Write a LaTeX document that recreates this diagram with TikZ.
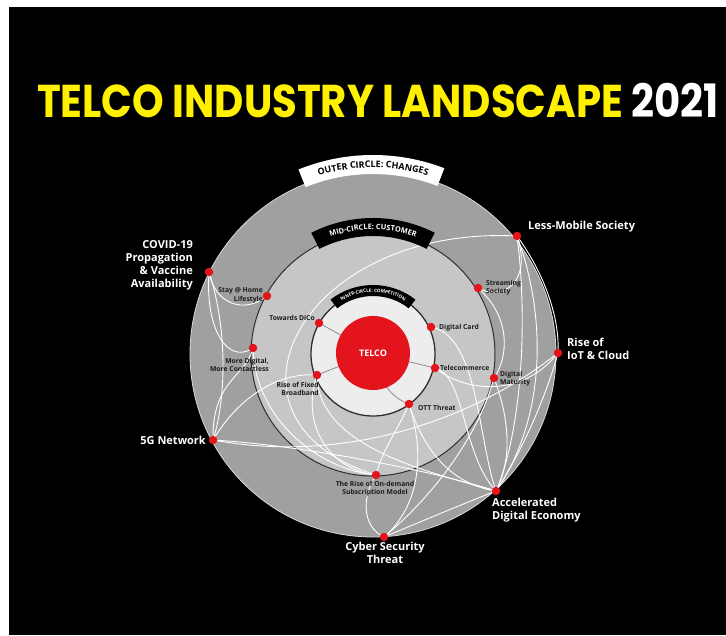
\documentclass[tikz,border=0pt]{standalone}
\usepackage{fontspec}
\usepackage{graphicx}
\setmainfont{Open Sans}
\newfontfamily\titlefont{Poppins}
\usetikzlibrary{calc,decorations.text}

\definecolor{ringouter}{HTML}{A0A0A0}
\definecolor{ringmid}{HTML}{C6C6C6}
\definecolor{ringinner}{HTML}{EDEDED}
\definecolor{edgedark}{HTML}{2E2E2E}
\definecolor{outeredge}{HTML}{D8D8D8}
\definecolor{telcored}{HTML}{E3141C}
\definecolor{titleyellow}{HTML}{FFF000}
\definecolor{labeldark}{HTML}{1C1C1C}
\definecolor{spokegray}{HTML}{8C8C8C}

\pgfdeclarelayer{canvas}
\pgfdeclarelayer{rings}
\pgfdeclarelayer{links}
\pgfsetlayers{canvas,rings,links,main}

\begin{document}
\begin{tikzpicture}[x=1pt,y=1pt,
  dot/.style={circle,fill=telcored,inner sep=0pt,minimum size=8.5pt},
  outerlabel/.style={text=white,font=\bfseries\fontsize{11}{13}\selectfont,inner sep=0pt},
  innerlabel/.style={text=labeldark,font=\bfseries\fontsize{6.8}{8.3}\selectfont,inner sep=0pt},
  link/.style={draw=white,line width=0.9pt},
  spoke/.style={draw=spokegray,line width=0.8pt}]

\useasboundingbox (0,0) rectangle (726,-635);
\begin{pgfonlayer}{canvas}
  \fill[white] (0,0) rectangle (726,-635);
  \fill[black] (9,-7) rectangle (726,-635);
\end{pgfonlayer}

% title
\node[font=\titlefont\bfseries\fontsize{46}{46}\selectfont,inner sep=0pt] (title) at (378,-100.5)
  {\scalebox{0.875}[1]{\textcolor{titleyellow}{TELCO INDUSTRY LANDSCAPE} \textcolor{white}{2021}}};

% concentric rings
\coordinate (C) at (373,-354);
\begin{pgfonlayer}{rings}
  \fill[ringouter] (C) circle[radius=183];
  \draw[outeredge,line width=0.8pt] (C) circle[radius=183];
  \filldraw[fill=ringmid,draw=edgedark,line width=1pt] (C) circle[radius=122];
  \filldraw[fill=ringinner,draw=edgedark,line width=1.3pt] (C) circle[radius=62];
\end{pgfonlayer}

% ring banners
\fill[white] ($(C)+(112:180)$) arc[start angle=112,end angle=69,radius=180]
  -- ($(C)+(69:199)$) arc[start angle=69,end angle=112,radius=199] -- cycle;
\path[decorate,decoration={text along path,text align=center,
  text={|\color{black}\bfseries\fontsize{9}{9}\selectfont|OUTER CIRCLE: CHANGES}}]
  ($(C)+(118:186.5)$) arc[start angle=118,end angle=62,radius=186.5];

\fill[black] ($(C)+(117:118)$) arc[start angle=117,end angle=63,radius=118]
  -- ($(C)+(63:136)$) arc[start angle=63,end angle=117,radius=136] -- cycle;
\path[decorate,decoration={text along path,text align=center,
  text={|\color{white}\bfseries\fontsize{7.4}{7.4}\selectfont|MID-CIRCLE: CUSTOMER}}]
  ($(C)+(125:124.5)$) arc[start angle=125,end angle=55,radius=124.5];

\fill[black] ($(C)+(128:58)$) arc[start angle=128,end angle=52,radius=58]
  -- ($(C)+(52:69)$) arc[start angle=52,end angle=128,radius=69] -- cycle;
\path[decorate,decoration={text along path,text align=center,
  text={|\color{white}\bfseries\fontsize{4.6}{4.6}\selectfont|INNER-CIRCLE: COMPETITION}}]
  ($(C)+(140:61.8)$) arc[start angle=140,end angle=40,radius=61.8];

% centre
\node[circle,fill=telcored,minimum size=74pt,inner sep=0pt,text=white,
  font=\bfseries\fontsize{9}{9}\selectfont] (telco) at (373,-353) {TELCO};

% outer circle: changes
\node[dot] (covid) at (209,-272) {};
\node[dot] (less)  at (517,-236) {};
\node[dot] (iot)   at (558,-353) {};
\node[dot] (g5)    at (213,-440) {};
\node[dot] (accel) at (496,-491) {};
\node[dot] (cyber) at (384,-537) {};
% mid circle: customer
\node[dot] (stay)     at (267,-296) {};
\node[dot] (moredig)  at (253,-348) {};
\node[dot] (stream)   at (478,-288) {};
\node[dot] (maturity) at (494,-378) {};
\node[dot] (ondemand) at (376,-475) {};
% inner circle: competition
\node[dot] (dico)    at (319,-323) {};
\node[dot] (card)    at (431,-327) {};
\node[dot] (telecom) at (435,-368) {};
\node[dot] (ott)     at (409,-404) {};
\node[dot] (fixed)   at (317,-375) {};

% labels
\node[outerlabel,anchor=east,align=right] (covidlbl) at (193,-265)
  {COVID-19\\Propagation\\\& Vaccine\\Availability};
\node[outerlabel,anchor=west] (lesslbl) at (528,-227) {Less-Mobile Society};
\node[outerlabel,anchor=west,align=left] (iotlbl) at (567,-348.5) {Rise of\\IoT \& Cloud};
\node[outerlabel,anchor=east] (g5lbl) at (206,-440) {5G Network};
\node[outerlabel,anchor=west,align=left] (accellbl) at (492,-510) {Accelerated\\Digital Economy};
\node[outerlabel,align=center] (cyberlbl) at (385,-553) {Cyber Security\\Threat};

\node[innerlabel,anchor=east,align=right] (staylbl) at (263,-295.5) {Stay @ Home\\Lifestyle};
\node[innerlabel,anchor=east] (dicolbl) at (315,-318) {Towards DiCo};
\node[innerlabel,anchor=east,align=right] (moredigLbl) at (269,-365) {More Digital,\\More Contactless};
\node[innerlabel,anchor=east,align=right] (fixedlbl) at (319,-389) {Rise of Fixed\\Broadband};
\node[innerlabel,anchor=west,align=left] (streamlbl) at (486,-287.5) {Streaming\\Society};
\node[innerlabel,anchor=west] (cardlbl) at (439,-328) {Digital Card};
\node[innerlabel,anchor=west] (telecomlbl) at (440,-368) {Telecommerce};
\node[innerlabel,anchor=west,align=left] (maturitylbl) at (500,-379) {Digital\\Maturity};
\node[innerlabel,anchor=west] (ottlbl) at (418,-408) {OTT Threat};
\node[innerlabel,align=center] (ondemandlbl) at (375,-488.5) {The Rise of On-demand\\Subscription Model};

% connections
\begin{pgfonlayer}{links}
  % inner spokes to the centre
  \draw[spoke] (dico.center) -- (telco.center);
  \draw[spoke] (fixed.center) -- (telco.center);
  \draw[spoke] (telecom.center) -- (telco.center);
  \draw[spoke] (ott.center) .. controls (390,-397) and (380,-382) .. (telco.center);

  % white links between drivers
  \draw[link] (covid.center) .. controls (215,-305) and (245,-314) .. (stay.center);
  \draw[link] (covid.center) .. controls (205,-330) and (228,-365) .. (moredig.center);
  \draw[link] (covid.center) .. controls (228,-330) and (226,-400) .. (g5.center);
  \draw[link] (g5.center) .. controls (212,-380) and (245,-378) .. (moredig.center);
  \draw[link] (g5.center) .. controls (240,-395) and (280,-372) .. (fixed.center);
  \draw[link] (g5.center) .. controls (330,-462) and (460,-430) .. (iot.center);
  \draw[link] (g5.center) .. controls (300,-445) and (430,-470) .. (accel.center);
  \draw[link] (less.center) .. controls (300,-225) and (200,-420) .. (ondemand.center);
  \draw[link] (stream.center) .. controls (505,-302) and (532,-280) .. (less.center);
  \draw[link] (less.center) .. controls (542,-270) and (560,-315) .. (iot.center);
  \draw[link] (less.center) .. controls (548,-320) and (545,-420) .. (accel.center);
  \draw[link] (less.center) .. controls (528,-320) and (522,-430) .. (accel.center);
  \draw[link] (stream.center) .. controls (512,-318) and (508,-358) .. (maturity.center);
  \draw[link] (card.center) .. controls (478,-335) and (478,-440) .. (accel.center);
  \draw[link] (telecom.center) .. controls (465,-375) and (462,-455) .. (accel.center);
  \draw[link] (telecom.center) .. controls (470,-395) and (525,-395) .. (iot.center);
  \draw[link] (maturity.center) .. controls (510,-420) and (512,-460) .. (accel.center);
  \draw[link] (iot.center) .. controls (545,-400) and (520,-455) .. (accel.center);
  \draw[link] (ott.center) .. controls (425,-455) and (455,-485) .. (accel.center);
  \draw[link] (ott.center) .. controls (398,-430) and (382,-450) .. (ondemand.center);
  \draw[link] (ott.center) .. controls (430,-470) and (410,-515) .. (cyber.center);
  \draw[link] (fixed.center) .. controls (318,-445) and (420,-470) .. (accel.center);
  \draw[link] (fixed.center) .. controls (300,-425) and (330,-470) .. (ondemand.center);
  \draw[link] (ondemand.center) .. controls (360,-500) and (364,-528) .. (cyber.center);
  \draw[link] (cyber.center) .. controls (420,-522) and (460,-505) .. (accel.center);
  \draw[link] (cyber.center) .. controls (440,-490) and (480,-430) .. (maturity.center);
  \draw[link] (moredig.center) .. controls (255,-420) and (320,-470) .. (ondemand.center);
\end{pgfonlayer}
\end{tikzpicture}
\end{document}
